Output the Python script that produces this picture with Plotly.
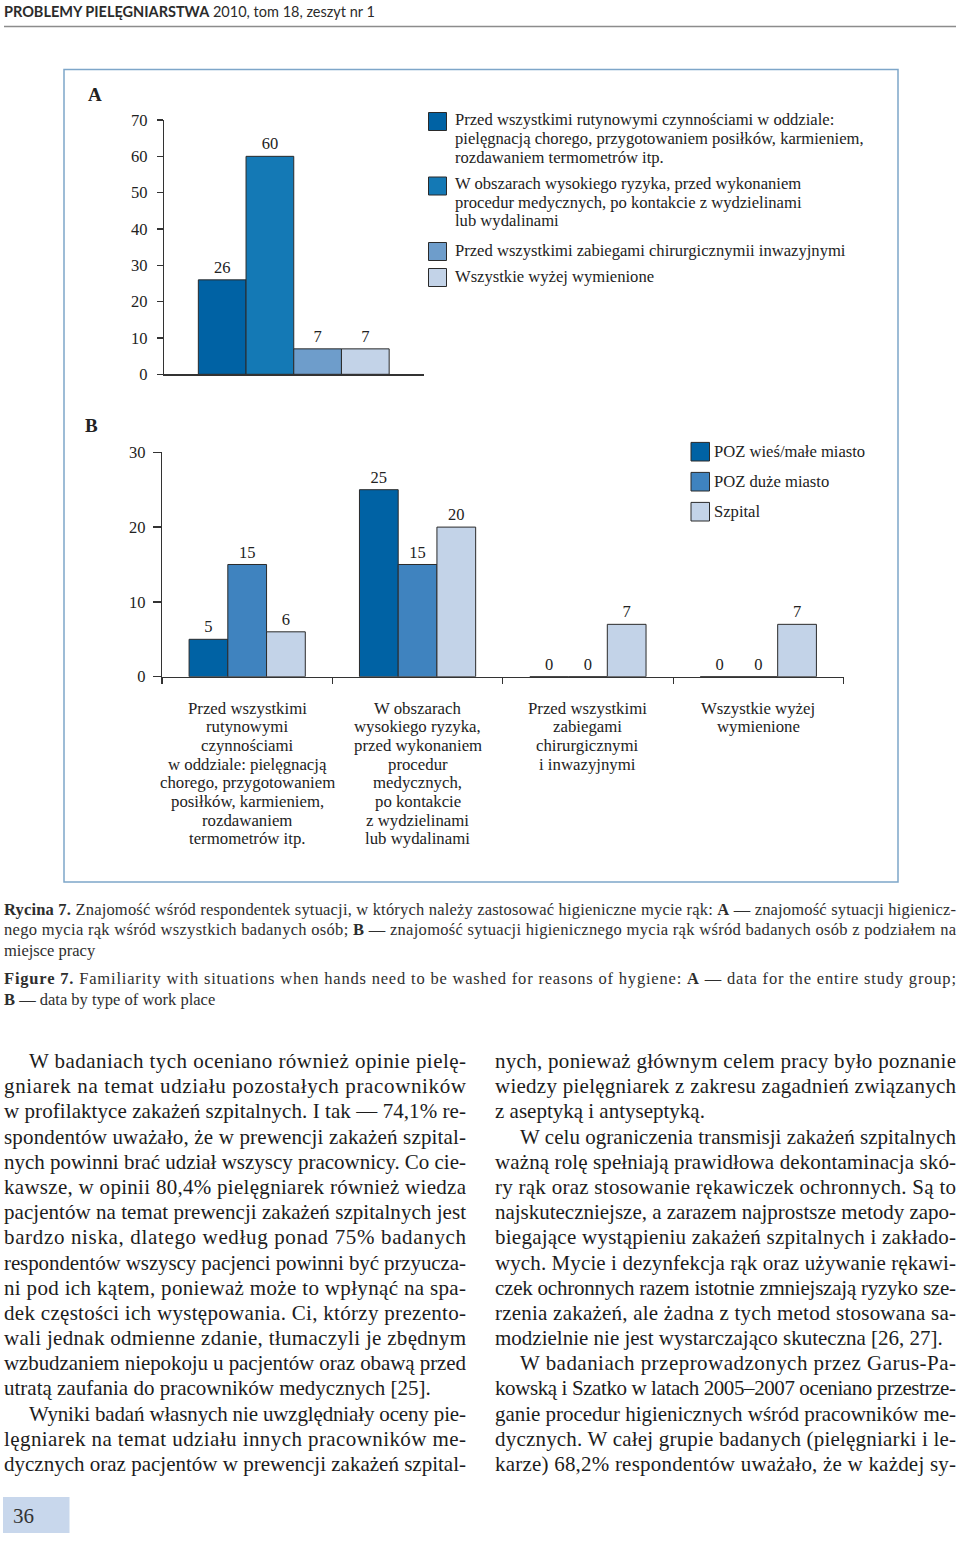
import json
import plotly.graph_objects as go

W, H = 960, 1541

# ---------------- data ----------------
a_group = ["Wszyscy badani"]
a_series = [
    "Przed wszystkimi rutynowymi czynnościami w oddziale:\npielęgnacją chorego, przygotowaniem posiłków, karmieniem,\nrozdawaniem termometrów itp.",
    "W obszarach wysokiego ryzyka, przed wykonaniem\nprocedur medycznych, po kontakcie z wydzielinami\nlub wydalinami",
    "Przed wszystkimi zabiegami chirurgicznymii inwazyjnymi",
    "Wszystkie wyżej wymienione",
]
a_values = [26, 60, 7, 7]
a_colors = ["#0062a4", "#1479b5", "#6e9dcb", "#c3d3e8"]
a_yticks = [0, 10, 20, 30, 40, 50, 60, 70]

b_categories = [
    "Przed wszystkimi\nrutynowymi\nczynnościami\nw oddziale: pielęgnacją\nchorego, przygotowaniem\nposiłków, karmieniem,\nrozdawaniem\ntermometrów itp.",
    "W obszarach\nwysokiego ryzyka,\nprzed wykonaniem\nprocedur\nmedycznych,\npo kontakcie\nz wydzielinami\nlub wydalinami",
    "Przed wszystkimi\nzabiegami\nchirurgicznymi\ni inwazyjnymi",
    "Wszystkie wyżej\nwymienione",
]
b_series = ["POZ wieś/małe miasto", "POZ duże miasto", "Szpital"]
b_poz_wies = [5, 25, 0, 0]
b_poz_duze = [15, 15, 0, 0]
b_szpital = [6, 20, 7, 7]
b_values = [b_poz_wies, b_poz_duze, b_szpital]
b_colors = ["#0062a4", "#3f83bf", "#c3d3e8"]
b_yticks = [0, 10, 20, 30]

header_bold = "PROBLEMY PIELĘGNIARSTWA"
header_rest = "2010, tom 18, zeszyt nr 1"

caption_lines = [
    ("<b>Rycina 7.</b> Znajomość wśród respondentek sytuacji, w których należy zastosować higieniczne mycie rąk: <b>A</b> — znajomość sytuacji higienicz-", True),
    ("nego mycia rąk wśród wszystkich badanych osób; <b>B</b> — znajomość sytuacji higienicznego mycia rąk wśród badanych osób z podziałem na", True),
    ("miejsce pracy", False),
    ("<b>Figure 7.</b> Familiarity with situations when hands need to be washed for reasons of hygiene: <b>A</b> — data for the entire study group;", True),
    ("<b>B</b> — data by type of work place", False),
]

# (text, indent, justified)
left_col = [
    ("W badaniach tych oceniano również opinie pielę-", True, True),
    ("gniarek na temat udziału pozostałych pracowników", False, True),
    ("w profilaktyce zakażeń szpitalnych. I tak — 74,1% re-", False, True),
    ("spondentów uważało, że w prewencji zakażeń szpital-", False, True),
    ("nych powinni brać udział wszyscy pracownicy. Co cie-", False, True),
    ("kawsze, w opinii 80,4% pielęgniarek również wiedza", False, True),
    ("pacjentów na temat prewencji zakażeń szpitalnych jest", False, True),
    ("bardzo niska, dlatego według ponad 75% badanych", False, True),
    ("respondentów wszyscy pacjenci powinni być przyucza-", False, True),
    ("ni pod ich kątem, ponieważ może to wpłynąć na spa-", False, True),
    ("dek częstości ich występowania. Ci, którzy prezento-", False, True),
    ("wali jednak odmienne zdanie, tłumaczyli je zbędnym", False, True),
    ("wzbudzaniem niepokoju u pacjentów oraz obawą przed", False, True),
    ("utratą zaufania do pracowników medycznych [25].", False, False),
    ("Wyniki badań własnych nie uwzględniały oceny pie-", True, True),
    ("lęgniarek na temat udziału innych pracowników me-", False, True),
    ("dycznych oraz pacjentów w prewencji zakażeń szpital-", False, True),
]
right_col = [
    ("nych, ponieważ głównym celem pracy było poznanie", False, True),
    ("wiedzy pielęgniarek z zakresu zagadnień związanych", False, True),
    ("z aseptyką i antyseptyką.", False, False),
    ("W celu ograniczenia transmisji zakażeń szpitalnych", True, True),
    ("ważną rolę spełniają prawidłowa dekontaminacja skó-", False, True),
    ("ry rąk oraz stosowanie rękawiczek ochronnych. Są to", False, True),
    ("najskuteczniejsze, a zarazem najprostsze metody zapo-", False, True),
    ("biegające wystąpieniu zakażeń szpitalnych i zakłado-", False, True),
    ("wych. Mycie i dezynfekcja rąk oraz używanie rękawi-", False, True),
    ("czek ochronnych razem istotnie zmniejszają ryzyko sze-", False, True),
    ("rzenia zakażeń, ale żadna z tych metod stosowana sa-", False, True),
    ("modzielnie nie jest wystarczająco skuteczna [26, 27].", False, False),
    ("W badaniach przeprowadzonych przez Garus-Pa-", True, True),
    ("kowską i Szatko w latach 2005–2007 oceniano przestrze-", False, True),
    ("ganie procedur higienicznych wśród pracowników me-", False, True),
    ("dycznych. W całej grupie badanych (pielęgniarki i le-", False, True),
    ("karze) 68,2% respondentów uważało, że w każdej sy-", False, True),
]
page_number = "36"

# ---------------- helpers ----------------
def fx(px):
    return px / W

def fy(py):
    return 1 - py / H

SERIF = "Liberation Serif"
TXT = "#222222"

fig = go.Figure()

# ---- chart A bars ----
for name, val, col in zip(a_series, a_values, a_colors):
    fig.add_trace(go.Bar(
        x=a_group, y=[val], name=name.replace("\n", " "),
        marker=dict(color=col, line=dict(color="#2a2a2a", width=1)),
        texttemplate="%{y}", textposition="outside", cliponaxis=False,
        textfont=dict(family=SERIF, size=16.5, color=TXT),
        xaxis="x", yaxis="y", showlegend=False, hoverinfo="skip",
    ))

# ---- chart B bars ----
for name, vals, col in zip(b_series, b_values, b_colors):
    fig.add_trace(go.Bar(
        x=b_categories, y=vals, name=name,
        marker=dict(color=col, line=dict(color="#2a2a2a", width=1)),
        texttemplate="%{y}", textposition="outside", cliponaxis=False,
        textfont=dict(family=SERIF, size=16.5, color=TXT),
        xaxis="x2", yaxis="y2", showlegend=False, hoverinfo="skip",
    ))

axis_common = dict(showgrid=False, zeroline=False, showline=True,
                   linecolor="#333333", linewidth=1.2, fixedrange=True,
                   automargin=False)

layout = dict(
    width=W, height=H, autosize=False,
    margin=dict(l=0, r=0, t=0, b=0, pad=0, autoexpand=False),
    paper_bgcolor="white", plot_bgcolor="rgba(0,0,0,0)",
    barmode="group", bargap=0.318, bargroupgap=0,
    showlegend=False,
    xaxis=dict(domain=[fx(164), fx(423.5)], range=[-0.4637, 0.4637],
               showticklabels=False, ticks="", anchor="y", **axis_common),
    yaxis=dict(domain=[fy(374.3), fy(120)], range=[0, 70], tickvals=a_yticks,
               ticks="outside", ticklen=6, tickwidth=1.2, tickcolor="#333333",
               ticklabelstandoff=6,
               tickfont=dict(family=SERIF, size=16.5, color=TXT), anchor="x",
               **axis_common),
    xaxis2=dict(domain=[fx(162), fx(843.5)], range=[-0.5, 3.5],
                type="category", tickson="boundaries", ticks="outside",
                ticklen=6, tickwidth=1.2, tickcolor="#333333",
                showticklabels=False, anchor="y2", **axis_common),
    yaxis2=dict(domain=[fy(676.7), fy(452.3)], range=[0, 30], tickvals=b_yticks,
                ticks="outside", ticklen=8, tickwidth=1.2, tickcolor="#333333",
                ticklabelstandoff=4,
                tickfont=dict(family=SERIF, size=16.5, color=TXT), anchor="x2",
                **axis_common),
)

shapes = []
annotations = []
justify = {}

def add_text(text, x, y, size, family=SERIF, color=TXT, xanchor="left",
             align="left", width_just=None, xref="paper"):
    annotations.append(dict(
        text=text, x=x, y=y, xref=xref, yref="paper",
        xanchor=xanchor, yanchor="middle", align=align, showarrow=False,
        font=dict(family=family, size=size, color=color),
        borderpad=0, borderwidth=0,
    ))
    if width_just is not None:
        justify[str(len(annotations) - 1)] = width_just

# header
add_text(f"<b>{header_bold}</b> {header_rest}", fx(4), fy(11.5), 14.5,
         family="Lato", color="#2b2b2b")
shapes.append(dict(type="line", xref="paper", yref="paper",
                   x0=fx(4), x1=fx(956), y0=fy(26.5), y1=fy(26.5),
                   line=dict(color="#8c8c8c", width=1.5)))

# figure frame
shapes.append(dict(type="rect", xref="paper", yref="paper",
                   x0=fx(64), x1=fx(898), y0=fy(69.5), y1=fy(882),
                   line=dict(color="#7ea6c9", width=1.5), fillcolor="rgba(0,0,0,0)"))

# panel letters
add_text("<b>A</b>", fx(95), fy(94), 19, xanchor="center", align="center")
add_text("<b>B</b>", fx(91), fy(426), 19, xanchor="center", align="center")

# legend A
a_square_cy = [121.5, 186, 251.5, 277.5]
a_text_y = [[119.5, 138.5, 157.5], [183.5, 202.5, 221], [251], [276.5]]
for lab, col, cy, ys in zip(a_series, a_colors, a_square_cy, a_text_y):
    shapes.append(dict(type="rect", xref="paper", yref="paper",
                       x0=fx(428.5), x1=fx(446.5), y0=fy(cy + 9), y1=fy(cy - 9),
                       fillcolor=col, line=dict(color="#2a2a2a", width=1)))
    for line, yy in zip(lab.split("\n"), ys):
        add_text(line, fx(455), fy(yy), 16.6)

# legend B
b_square_cy = [451.7, 481.7, 511.7]
for lab, col, cy in zip(b_series, b_colors, b_square_cy):
    shapes.append(dict(type="rect", xref="paper", yref="paper",
                       x0=fx(691), x1=fx(709.5), y0=fy(cy + 9.3), y1=fy(cy - 9.3),
                       fillcolor=col, line=dict(color="#2a2a2a", width=1)))
    add_text(lab, fx(713.5), fy(cy - 0.5), 16.6)

# category labels for chart B (placed at the categories of the x2 axis)
for cat in b_categories:
    for k, line in enumerate(cat.split("\n")):
        add_text(line, cat, fy(708 + 18.7 * k), 16.8, xanchor="center",
                 align="center", xref="x2")

# caption
cap_y = [909, 930, 951, 978, 999]
for (line, just), yy in zip(caption_lines, cap_y):
    add_text(line, fx(4), fy(yy), 16.5, color="#2e2e2e",
             width_just=(952 if just else None))

# body text
LINE0, STEP = 1061, 25.19
for col_items, x_left, x_right in ((left_col, 4, 466), (right_col, 495, 956)):
    for k, (line, indent, just) in enumerate(col_items):
        xs = x_left + (25 if indent else 0)
        add_text(line, fx(xs), fy(LINE0 + STEP * k), 21, color="#1c1c1c",
                 width_just=((x_right - xs) if just else None))

# page number box
shapes.append(dict(type="rect", xref="paper", yref="paper",
                   x0=fx(3), x1=fx(69.5), y0=fy(1533), y1=fy(1497),
                   fillcolor="#c8d7ec", line=dict(width=0), layer="below"))
add_text(page_number, fx(13), fy(1516), 21, color="#333333")

layout["shapes"] = shapes
layout["annotations"] = annotations
fig.update_layout(**layout)

post = """
var de=document.documentElement;
de.style.margin='0'; de.style.padding='0'; de.style.overflow='hidden';
de.style.height='%dpx';
document.body.style.margin='0';
document.body.style.padding='0';
document.body.style.overflow='hidden';
document.body.style.height='%dpx';
var gd=document.getElementById('{plot_id}');
gd.style.position='absolute'; gd.style.left='0px'; gd.style.top='0px';
var J=%s;
var gs=gd.querySelectorAll('g.annotation');
for (var k=0;k<gs.length;k++){
  var g=gs[k]; var i=g.getAttribute('data-index');
  if (Object.prototype.hasOwnProperty.call(J,i)){
    var t=g.querySelector('text.annotation-text');
    if(t){t.setAttribute('textLength', J[i]); t.setAttribute('lengthAdjust','spacing');}
  }
}
""" % (H, H, json.dumps(justify))

fig.write_html("out.html", config={"displayModeBar": False, "staticPlot": True,
                                   "responsive": False},
               post_script=post)
